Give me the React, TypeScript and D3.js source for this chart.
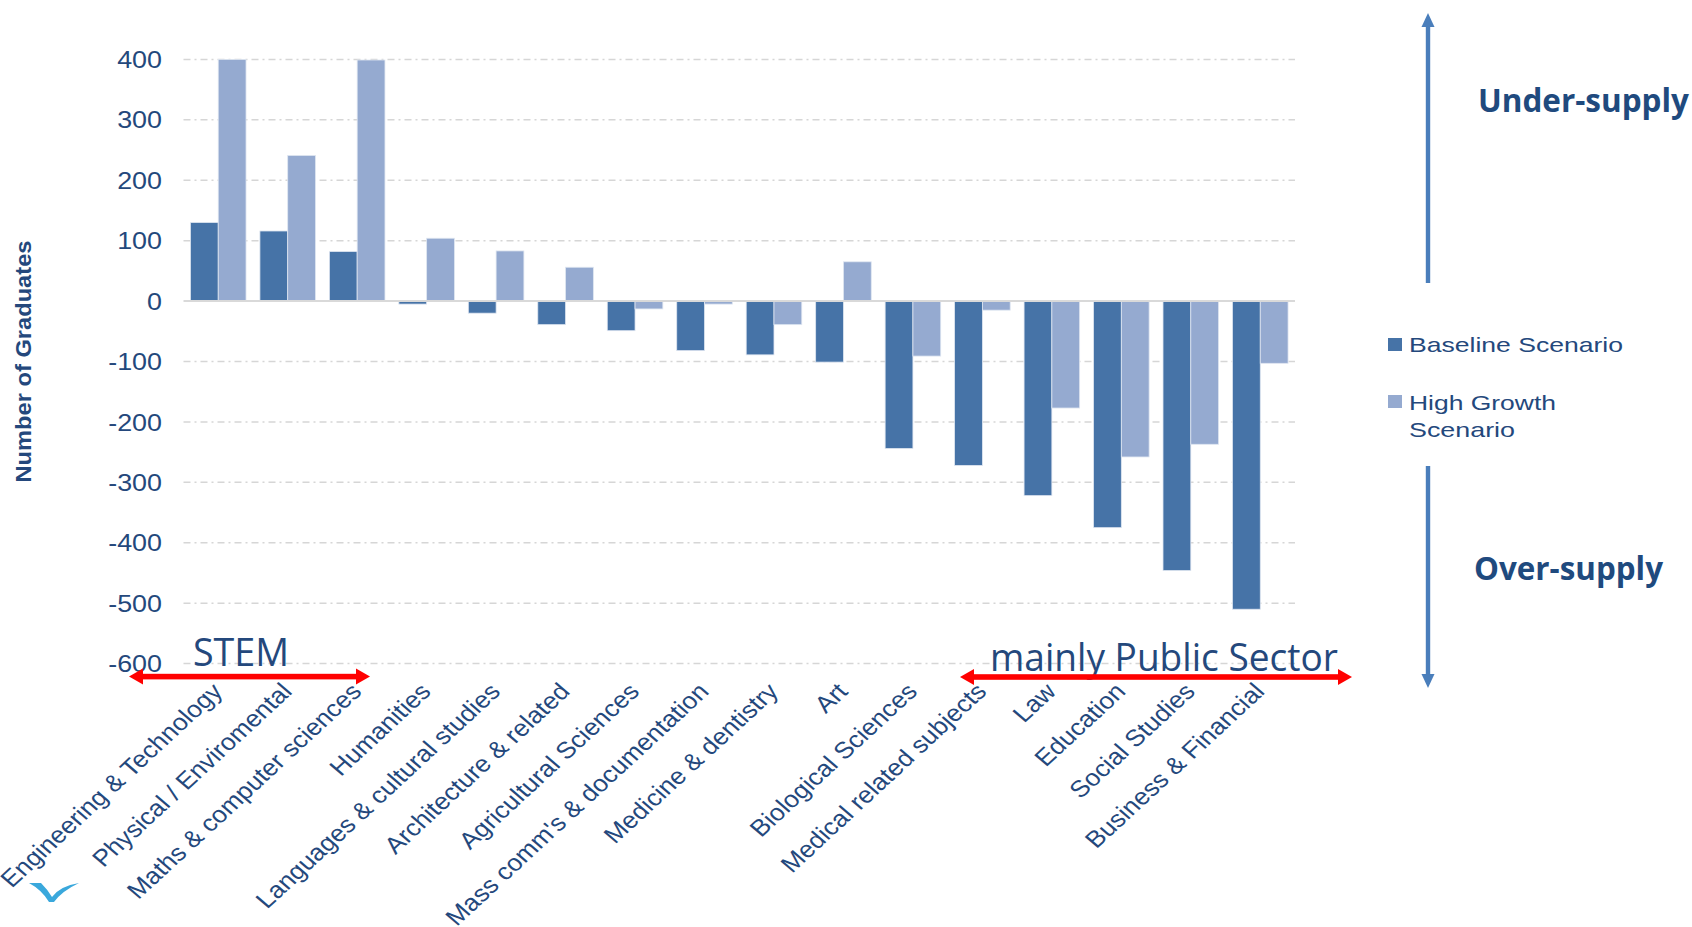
import React from "react";
import * as d3 from "d3";

const categories = [
  "Engineering & Technology",
  "Physical / Enviromental",
  "Maths & computer sciences",
  "Humanities",
  "Languages & cultural studies",
  "Architecture & related",
  "Agricultural Sciences",
  "Mass comm's & documentation",
  "Medicine & dentistry",
  "Art",
  "Biological Sciences",
  "Medical related subjects",
  "Law",
  "Education",
  "Social Studies",
  "Business & Financial",
];
const baselineValues = [130, 116, 82, -5, -20, -39, -49, -82, -89, -101, -244, -272, -322, -375, -446, -510];
const highGrowthValues = [400, 241, 399, 104, 83, 56, -13, -5, -39, 65, -91, -15, -177, -258, -237, -103];
const yTicks = [400, 300, 200, 100, 0, -100, -200, -300, -400, -500, -600];
const seriesNames = ["Baseline Scenario", "High Growth Scenario"];
const seriesColors = ["#4673a7", "#95aad0"];

const W = 1692;
const H = 927;
const SX = 1.12;
const FONT = "'Liberation Sans', Arial, sans-serif";
const CAL = "'Open Sans', 'Noto Sans', sans-serif";
const TXT = "#24487c";
const ARROW_BLUE = "#4a7ebb";

export default function App() {
  const left = 183.5;
  const right = 1295;
  const x0 = d3.scaleBand<string>().domain(categories).range([left, right]).paddingInner(0.2).paddingOuter(0.1);
  const x1 = d3.scaleBand<number>().domain([0, 1]).range([0, x0.bandwidth()]);
  const y = d3.scaleLinear().domain([-600, 400]).range([663.6, 59.4]);
  const series = [baselineValues, highGrowthValues];

  const redArrow = (xa: number, xb: number, yy: number) => {
    const hl = 14, hw = 8, t = 2.8;
    return (
      <g fill="#ff0000">
        <rect x={xa + hl - 1} y={yy - t} width={xb - xa - 2 * hl + 2} height={t * 2} />
        <polygon points={`${xa},${yy} ${xa + hl},${yy - hw} ${xa + hl},${yy + hw}`} />
        <polygon points={`${xb},${yy} ${xb - hl},${yy - hw} ${xb - hl},${yy + hw}`} />
      </g>
    );
  };

  const blueArrow = (xx: number, ya: number, yb: number, up: boolean) => {
    const hl = 14, hw = 6.5, t = 2.2;
    if (up) {
      return (
        <g fill={ARROW_BLUE}>
          <rect x={xx - t} y={ya + hl - 1} width={t * 2} height={yb - ya - hl + 1} />
          <polygon points={`${xx},${ya} ${xx - hw},${ya + hl} ${xx + hw},${ya + hl}`} />
        </g>
      );
    }
    return (
      <g fill={ARROW_BLUE}>
        <rect x={xx - t} y={ya} width={t * 2} height={yb - ya - hl + 1} />
        <polygon points={`${xx},${yb} ${xx - hw},${yb - hl} ${xx + hw},${yb - hl}`} />
      </g>
    );
  };

  return (
    <svg
      width={W}
      height={H}
      viewBox={`0 0 ${W} ${H}`}
      style={{ position: "absolute", left: 0, top: 0, display: "block", background: "#fff" }}
    >
      <rect x={0} y={0} width={W} height={H} fill="#fff" />
      {/* gridlines */}
      {yTicks.filter((t) => t !== 0).map((t) => (
        <line key={t} x1={left} x2={right} y1={y(t)} y2={y(t)} stroke="#d6d6d6" strokeWidth={1.5} strokeDasharray="7,4,2,4" />
      ))}
      {/* y tick labels */}
      {yTicks.map((t) => (
        <text
          key={"l" + t}
          transform={`translate(162,${y(t)}) scale(${SX},1)`}
          textAnchor="end"
          dy="0.36em"
          fontFamily={FONT}
          fontSize={24}
          fill={TXT}
        >
          {t}
        </text>
      ))}
      {/* y title */}
      <text
        transform={`translate(31,${y(-100)}) rotate(-90)`}
        textAnchor="middle"
        fontFamily={FONT}
        fontWeight="bold"
        fontSize={22}
        fill={TXT}
        textLength={242}
        lengthAdjust="spacingAndGlyphs"
      >
        Number of Graduates
      </text>
      {/* bars */}
      {categories.map((c, i) => (
        <g key={c}>
          {series.map((vals, s) => {
            const v = vals[i];
            const yTop = y(Math.max(0, v));
            const yBot = y(Math.min(0, v));
            return (
              <rect
                key={s}
                x={(x0(c) as number) + (x1(s) as number)}
                y={yTop}
                width={x1.bandwidth()}
                height={Math.max(0.5, yBot - yTop)}
                fill={seriesColors[s]}
                stroke="#dfe6f1"
                strokeWidth={0.8}
              />
            );
          })}
        </g>
      ))}
      {/* zero line */}
      <line x1={left} x2={right} y1={y(0)} y2={y(0)} stroke="#d9d9d9" strokeWidth={2} />
      {/* category labels */}
      {categories.map((c) => {
        const cx = (x0(c) as number) + x0.bandwidth() / 2;
        return (
          <text
            key={"c" + c}
            transform={`translate(${cx - 1},${687}) scale(${SX},1) rotate(-46)`}
            textAnchor="end"
            dy="0.35em"
            fontFamily={FONT}
            fontSize={23.5}
            fill={TXT}
          >
            {c}
          </text>
        );
      })}
      {/* STEM annotation */}
      <text x={193} y={666} fontFamily={CAL} fontSize={39} fill={TXT} textLength={96} lengthAdjust="spacingAndGlyphs">
        STEM
      </text>
      {redArrow(129, 370, 676.6)}
      {/* Public sector annotation */}
      <text x={990} y={671} fontFamily={CAL} fontSize={39} fill={TXT} textLength={348} lengthAdjust="spacingAndGlyphs">
        mainly Public Sector
      </text>
      {redArrow(960, 1352, 677)}
      {/* supply arrows */}
      {blueArrow(1428, 13, 283, true)}
      {blueArrow(1428, 466, 688, false)}
      <text x={1478} y={112} fontFamily={CAL} fontWeight="bold" fontSize={32} fill="#1f4a7e" textLength={211} lengthAdjust="spacingAndGlyphs">
        Under-supply
      </text>
      <text x={1474} y={580} fontFamily={CAL} fontWeight="bold" fontSize={32} fill="#1f4a7e" textLength={189} lengthAdjust="spacingAndGlyphs">
        Over-supply
      </text>
      {/* legend */}
      <rect x={1388} y={338} width={14} height={13} fill={seriesColors[0]} />
      <text x={1409} y={352} fontFamily={FONT} fontSize={21} fill={TXT} textLength={214} lengthAdjust="spacingAndGlyphs">
        {seriesNames[0]}
      </text>
      <rect x={1388} y={395} width={14} height={13} fill={seriesColors[1]} />
      <text x={1409} y={410} fontFamily={FONT} fontSize={21} fill={TXT} textLength={147} lengthAdjust="spacingAndGlyphs">
        {seriesNames[1].split(" ").slice(0, 2).join(" ")}
      </text>
      <text x={1409} y={437} fontFamily={FONT} fontSize={21} fill={TXT} textLength={106} lengthAdjust="spacingAndGlyphs">
        {seriesNames[1].split(" ")[2]}
      </text>
      {/* logo */}
      <path
        d="M29,883 L41,883 Q48,890 52,897 Q60,886 79,883 Q62,891 54,902 L49,902 Q42,890 29,883 Z"
        fill="#3aa8dc"
      />
    </svg>
  );
}
